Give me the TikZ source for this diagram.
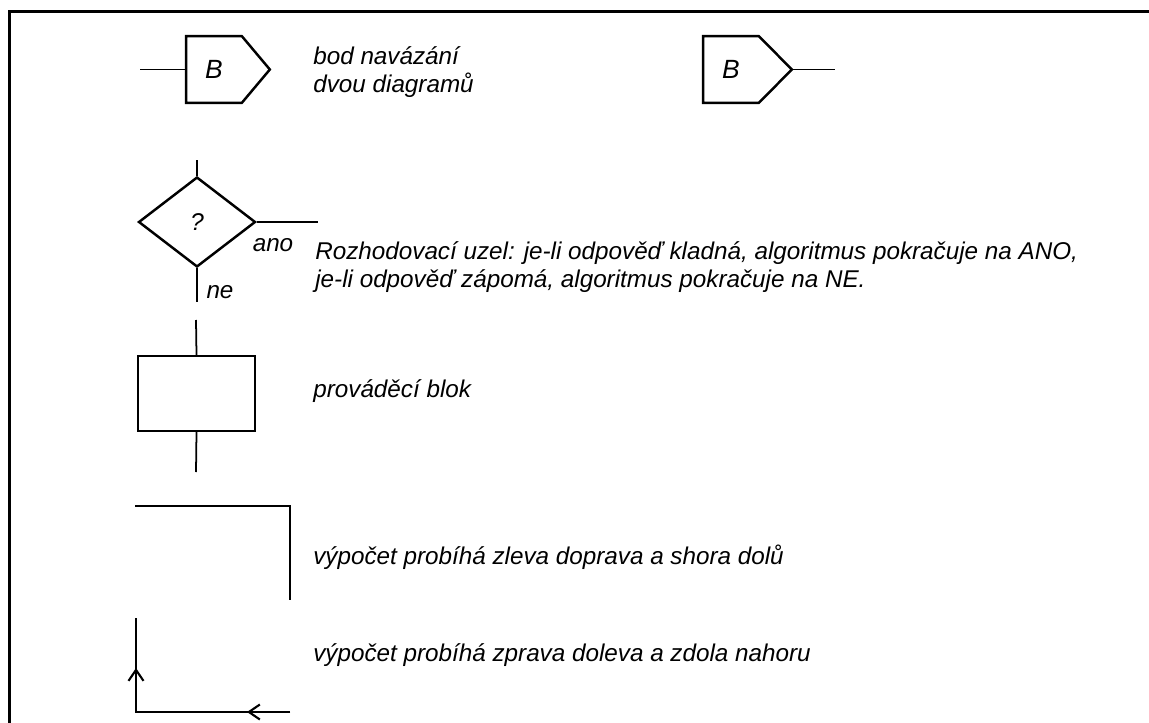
\documentclass[tikz,border=0pt]{standalone}
\usepackage{fontspec}
\setmainfont{Liberation Sans}
\usetikzlibrary{positioning, shapes.geometric, arrows.meta, calc}
\definecolor{fcink}{HTML}{000000}

\begin{document}
\begin{tikzpicture}[x=0.02cm, y=-0.02cm,
    shp/.style={draw=fcink, line width=1.4pt},
    wire/.style={draw=fcink, line width=1pt},
    lbl/.style={font=\fontsize{13.8}{15.5}\selectfont\itshape, text=fcink, inner sep=0pt, align=left},
    bodbox/.style={lbl, font=\fontsize{15}{17}\selectfont\itshape, minimum height=1.32cm, minimum width=1.1cm},
    arr/.style={wire, line width=1.2pt, -{Straight Barb[length=0.22cm, width=0.3cm]}}]
  \useasboundingbox (0,0) rectangle (1149,723);
  \draw[fcink, line width=1.7pt] (1149,11.5) -- (9.5,11.5) -- (9.5,723);

  % bod navazani
  \node[bodbox] (bodA) at (214,69.5) {B};
  \draw[shp] (bodA.north west) -- (bodA.north east) -- ([xshift=0.56cm]bodA.east) coordinate (bodAtip)
    -- (bodA.south east) -- (bodA.south west) -- cycle;
  \coordinate (bodAin) at (140,69.5);
  \draw[wire] (bodAin) -- (bodA.west);
  \node[lbl, anchor=west] (bodtxt) at (313,72) {bod navázání\\dvou diagramů};

  \node[bodbox] (bodB) at (731,69.5) {B};
  \draw[shp] (bodB.north west) -- (bodB.north east) -- ([xshift=0.66cm]bodB.east) coordinate (bodBtip)
    -- (bodB.south east) -- (bodB.south west) -- cycle;
  \coordinate (bodBout) at (835,69.5);
  \draw[wire] (bodBtip) -- (bodBout);

  % rozhodovaci uzel
  \node[shp, diamond, aspect=1.3, minimum width=2.34cm, minimum height=1.8cm, inner sep=0pt, font=\fontsize{13.8}{15.5}\selectfont\itshape] (rozh) at (197,222) {?};
  \coordinate (rozhin) at (197,160);
  \coordinate (rozhano) at (318,222);
  \coordinate (rozhne) at (197,302);
  \draw[wire] (rozhin) -- (rozh.north);
  \draw[wire] (rozh.east) -- (rozhano);
  \draw[wire] (rozh.south) -- (rozhne);
  \node[lbl] (ano) at (273,245) {ano};
  \node[lbl] (ne) at (220,292) {ne};
  \node[lbl, anchor=west] (rozhtxt) at (315,267) {Rozhodovací uzel: je-li odpověď kladná, algoritmus pokračuje na ANO,\\je-li odpověď zápomá, algoritmus pokračuje na NE.};

  % provadeci blok
  \node[shp, minimum width=2.34cm, minimum height=1.5cm] (blok) at (196.5,393.5) {};
  \coordinate (blokin) at (196,320);
  \coordinate (blokout) at (196,472);
  \draw[wire] (blokin) -- (blok.north);
  \draw[wire] (blok.south) -- (blokout);
  \node[lbl, anchor=west] (bloktxt) at (313,391) {prováděcí blok};

  % smer vypoctu
  \coordinate (zlA) at (135,506);
  \coordinate (zlB) at (290,506);
  \coordinate (zlC) at (290,600);
  \draw[shp] (zlA) -- (zlB) -- (zlC);
  \node[lbl, anchor=west] (zltxt) at (313,557) {výpočet probíhá zleva doprava a shora dolů};

  \coordinate (zpA) at (290,712);
  \coordinate (zpM) at (247,712);
  \coordinate (zpB) at (136,712);
  \coordinate (zpN) at (136,668);
  \coordinate (zpC) at (136,618);
  \draw[shp] (zpA) -- (zpB) -- (zpC);
  \draw[arr] (zpA) -- (zpM);
  \draw[arr] (zpB) -- (zpN);
  \node[lbl, anchor=west] (zptxt) at (313,655) {výpočet probíhá zprava doleva a zdola nahoru};
\end{tikzpicture}
\end{document}
